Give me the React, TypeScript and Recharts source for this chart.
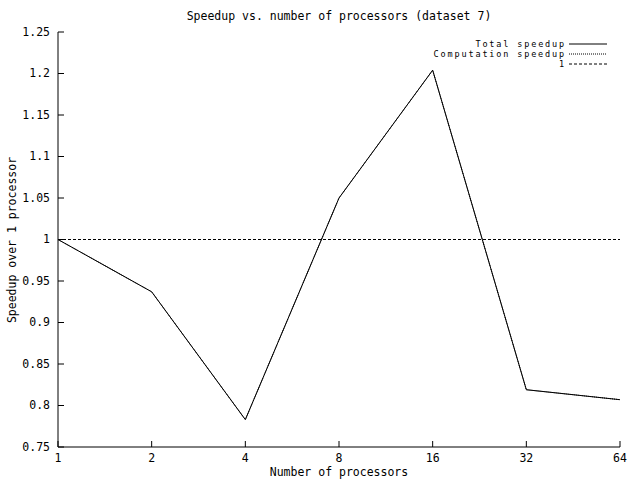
import React from "react";
import { LineChart, Line, XAxis, YAxis, ReferenceLine } from "recharts";

const processors = [1, 2, 4, 8, 16, 32, 64];
const totalSpeedup = [1.0, 0.937, 0.783, 1.05, 1.204, 0.819, 0.807];
const computationSpeedup = [1.0, 0.937, 0.783, 1.05, 1.204, 0.819, 0.807];
const yTicks = [0.75, 0.8, 0.85, 0.9, 0.95, 1, 1.05, 1.1, 1.15, 1.2, 1.25];

const data = processors.map((p, i) => ({
  p,
  total: totalSpeedup[i],
  comp: computationSpeedup[i],
}));

const FONT = "'DejaVu Sans Mono', monospace";
const FS = 11.5;
const TICK = 6;

const legendItems = [
  { label: "Total speedup", dash: undefined },
  { label: "Computation speedup", dash: "1 1" },
  { label: "1", dash: "3 2" },
];

const fmtY = (v: number) => String(Number(v.toFixed(2)));

// gnuplot style: ticks point into the plot, labels outside
const BottomTick = (props: any) => {
  const { x, y, payload } = props;
  return (
    <g>
      <line x1={x} x2={x} y1={y} y2={y - TICK} stroke="#000" />
      <text x={x} y={y + 11} textAnchor="middle" dominantBaseline="middle" fontFamily={FONT} fontSize={FS} fill="#000">
        {payload.value}
      </text>
    </g>
  );
};

const TopTick = (props: any) => {
  const { x, y } = props;
  return <line x1={x} x2={x} y1={y} y2={y + TICK} stroke="#000" />;
};

const LeftTick = (props: any) => {
  const { x, y, payload } = props;
  return (
    <g>
      <line x1={x} x2={x + TICK} y1={y} y2={y} stroke="#000" />
      <text x={x - 8} y={y} textAnchor="end" dominantBaseline="middle" fontFamily={FONT} fontSize={FS} fill="#000">
        {fmtY(payload.value)}
      </text>
    </g>
  );
};

const RightTick = (props: any) => {
  const { x, y } = props;
  return <line x1={x} x2={x - TICK} y1={y} y2={y} stroke="#000" />;
};

export default function App() {
  return (
    <div style={{ position: "absolute", left: 0, top: 0, width: 640, height: 480, background: "#fff" }}>
      <LineChart
        width={640}
        height={480}
        data={data}
        margin={{ top: 32, right: 20, left: 0, bottom: 0 }}
      >
        <text x={339} y={16} textAnchor="middle" dominantBaseline="middle" fontFamily={FONT} fontSize={FS} fill="#000">
          Speedup vs. number of processors (dataset 7)
        </text>
        <text
          x={12}
          y={240}
          textAnchor="middle"
          dominantBaseline="middle"
          fontFamily={FONT}
          fontSize={FS}
          fill="#000"
          transform="rotate(-90 12 240)"
        >
          Speedup over 1 processor
        </text>
        <text x={339} y={472} textAnchor="middle" dominantBaseline="middle" fontFamily={FONT} fontSize={FS} fill="#000">
          Number of processors
        </text>
        {legendItems.map((it, i) => (
          <g key={it.label}>
            <text
              x={566}
              y={44 + i * 10}
              textAnchor="end"
              dominantBaseline="middle"
              fontFamily={FONT}
              fontSize={8.5}
              letterSpacing={1.85}
              fill="#000"
            >
              {it.label}
            </text>
            <line
              x1={569}
              x2={607}
              y1={44 + i * 10}
              y2={44 + i * 10}
              stroke="#000"
              strokeWidth={1}
              strokeDasharray={it.dash}
            />
          </g>
        ))}
        <XAxis
          dataKey="p"
          type="number"
          scale="log"
          domain={[1, 64]}
          ticks={processors}
          height={33}
          stroke="#000"
          tickLine={false}
          tickSize={0}
          tickMargin={0}
          interval={0}
          tick={BottomTick}
          allowDataOverflow
        />
        <XAxis
          xAxisId="top"
          orientation="top"
          dataKey="p"
          type="number"
          scale="log"
          domain={[1, 64]}
          ticks={processors}
          height={0}
          stroke="#000"
          tickLine={false}
          tickSize={0}
          tickMargin={0}
          tick={TopTick}
          interval={0}
          allowDataOverflow
        />
        <YAxis
          type="number"
          domain={[0.75, 1.25]}
          ticks={yTicks}
          width={58}
          stroke="#000"
          tickLine={false}
          tickSize={0}
          tickMargin={0}
          interval={0}
          tick={LeftTick}
          allowDataOverflow
        />
        <YAxis
          yAxisId="right"
          orientation="right"
          type="number"
          domain={[0.75, 1.25]}
          ticks={yTicks}
          width={0}
          stroke="#000"
          tickLine={false}
          tickSize={0}
          tickMargin={0}
          tick={RightTick}
          interval={0}
          allowDataOverflow
        />
        <ReferenceLine y={1} stroke="#000" strokeDasharray="3 2" strokeWidth={1} />
        <Line
          dataKey="total"
          stroke="#000"
          strokeWidth={1}
          dot={false}
          type="linear"
          isAnimationActive={false}
        />
        <Line
          dataKey="comp"
          stroke="#000"
          strokeWidth={1}
          strokeDasharray="1 1"
          dot={false}
          type="linear"
          isAnimationActive={false}
        />
      </LineChart>
    </div>
  );
}
